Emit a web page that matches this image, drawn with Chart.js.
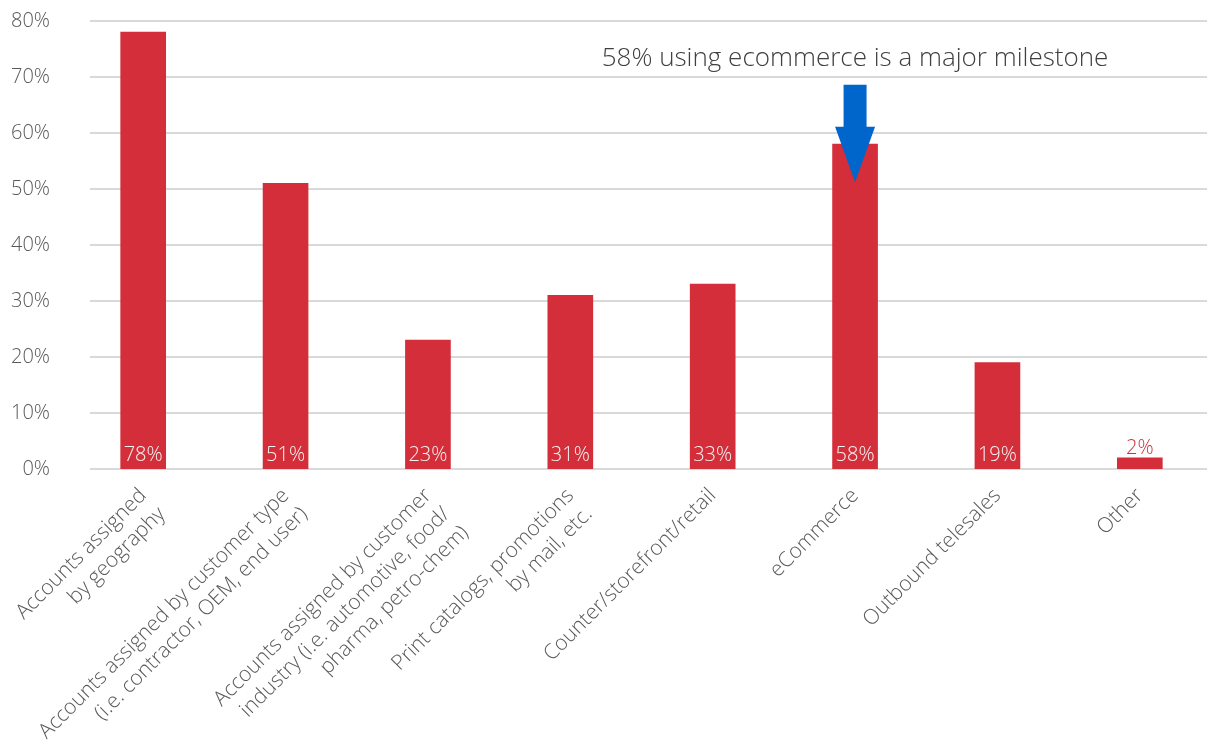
<!DOCTYPE html>
<html>
<head>
<meta charset="utf-8">
<title>Channels</title>
<script src="https://cdn.jsdelivr.net/npm/chart.js@4.4.0/dist/chart.umd.min.js"></script>
<style>
  html, body { margin: 0; padding: 0; background: #fff; overflow: hidden; }
  #caixa { width: 1211px; height: 744px; }
</style>
</head>
<body>
<div id="caixa"><canvas id="grafico" width="1211" height="744"></canvas></div>
<script>
const categorias = [
  ['Accounts assigned', 'by geography'],
  ['Accounts assigned by customer type', '(i.e. contractor, OEM, end user)'],
  ['Accounts assigned by customer', 'industry (i.e. automotive, food/', 'pharma, petro-chem)'],
  ['Print catalogs, promotions', 'by mail, etc.'],
  ['Counter/storefront/retail'],
  ['eCommerce'],
  ['Outbound telesales'],
  ['Other']
];
const percentuais = [78, 51, 23, 31, 33, 58, 19, 2];
const escalaY = [0, 10, 20, 30, 40, 50, 60, 70, 80];
const destaque = '58% using ecommerce is a major milestone';
const indiceDestaque = 5;

const vermelho = '#d32e3a';
const azul = '#0066cc';
const cinza = '#595959';
const fonte = '"Open Sans", "Noto Sans", sans-serif';

// linhas de grade horizontais, mais curtas que a area das barras
const grade = {
  id: 'grade',
  beforeDatasetsDraw(chart) {
    const ctx = chart.ctx;
    const y = chart.scales.y;
    ctx.save();
    ctx.strokeStyle = '#d9d9d9';
    ctx.lineWidth = 2;
    escalaY.forEach(v => {
      const py = Math.round(y.getPixelForValue(v));
      ctx.beginPath();
      ctx.moveTo(90, py);
      ctx.lineTo(1207, py);
      ctx.stroke();
    });
    ctx.restore();
  }
};

// rotulos de valor: dentro da barra, embaixo; acima quando a barra e baixa
const rotulos = {
  id: 'rotulos',
  afterDatasetsDraw(chart) {
    const ctx = chart.ctx;
    const barras = chart.getDatasetMeta(0).data;
    ctx.save();
    ctx.font = '300 20px ' + fonte;
    ctx.textAlign = 'center';
    ctx.textBaseline = 'alphabetic';
    barras.forEach((b, i) => {
      const valor = percentuais[i];
      if (valor >= 5) {
        ctx.fillStyle = '#f4f4f4';
        ctx.fillText(valor + '%', b.x, b.base - 8);
      } else {
        ctx.fillStyle = vermelho;
        ctx.fillText(valor + '%', b.x, b.y - 4);
      }
    });
    ctx.restore();
  }
};

// seta azul e frase sobre a barra de eCommerce
const seta = {
  id: 'seta',
  afterDatasetsDraw(chart) {
    const ctx = chart.ctx;
    const y = chart.scales.y;
    const x = chart.getDatasetMeta(0).data[indiceDestaque].x;
    const topo = y.getPixelForValue(68.6);
    const base = y.getPixelForValue(61.1);
    const ponta = y.getPixelForValue(51.2);
    ctx.save();
    ctx.fillStyle = azul;
    ctx.beginPath();
    ctx.moveTo(x - 11.5, topo);
    ctx.lineTo(x + 11.5, topo);
    ctx.lineTo(x + 11.5, base);
    ctx.lineTo(x + 20, base);
    ctx.lineTo(x, ponta);
    ctx.lineTo(x - 20, base);
    ctx.lineTo(x - 11.5, base);
    ctx.closePath();
    ctx.fill();

    ctx.fillStyle = '#404040';
    ctx.font = '300 26px ' + fonte;
    ctx.textAlign = 'center';
    ctx.textBaseline = 'alphabetic';
    ctx.fillText(destaque, x, y.getPixelForValue(72.0));
    ctx.restore();
  }
};

const grafico = new Chart(document.getElementById('grafico').getContext('2d'), {
  type: 'bar',
  data: {
    labels: categorias,
    datasets: [{
      data: percentuais,
      backgroundColor: vermelho,
      borderWidth: 0,
      barThickness: 45
    }]
  },
  options: {
    responsive: false,
    animation: false,
    layout: { padding: { top: 21, right: -5, left: 0, bottom: 0 } },
    plugins: {
      legend: { display: false },
      tooltip: { enabled: false }
    },
    scales: {
      x: {
        grid: { display: false, drawTicks: false },
        border: { display: false },
        afterFit: s => {
          s.height = 275;
          s.paddingLeft = 0;
          s.paddingRight = 0;
        },
        ticks: {
          autoSkip: false,
          minRotation: 45,
          maxRotation: 45,
          padding: 14,
          color: cinza,
          font: { family: fonte, size: 21, weight: '300', lineHeight: 1.25 }
        }
      },
      y: {
        min: 0,
        max: 80,
        grid: { display: false, drawTicks: false },
        border: { display: false },
        afterFit: s => {
          s.width = 72;
          s.paddingTop = 0;
          s.paddingBottom = 0;
        },
        ticks: {
          stepSize: 10,
          padding: 22,
          color: cinza,
          font: { family: fonte, size: 20, weight: '300' },
          callback: v => v + '%'
        }
      }
    }
  },
  plugins: [grade, rotulos, seta]
});
</script>
</body>
</html>
